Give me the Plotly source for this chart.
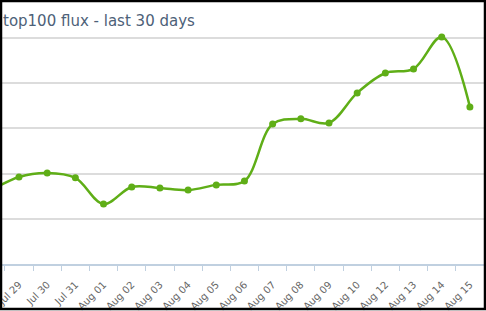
import plotly.graph_objects as go

categories = ["Jul 28", "Jul 29", "Jul 30", "Jul 31", "Aug 01", "Aug 02", "Aug 03",
              "Aug 04", "Aug 05", "Aug 06", "Aug 07", "Aug 08", "Aug 09", "Aug 10",
              "Aug 12", "Aug 13", "Aug 14", "Aug 15"]
flux = [32.5, 38.5, 40.3, 38.1, 26.5, 34.1, 33.6, 32.7, 35.0, 36.7,
        61.9, 64.2, 62.4, 75.7, 84.5, 86.3, 100.4, 69.5]
y_ticks = [0, 20, 40, 60, 80, 100]

W, H = 486, 311
plot_left, plot_right, plot_top, plot_bottom = 0, 484, 28, 264

fig = go.Figure()
fig.add_trace(go.Scatter(
    x=categories, y=flux, mode="lines+markers",
    line=dict(color="#5fae17", width=2.5, shape="spline", smoothing=1.0),
    marker=dict(color="#5fae17", size=7),
    cliponaxis=False, showlegend=False, hoverinfo="skip",
))

ph = plot_bottom - plot_top
pw = plot_right - plot_left
fig.update_layout(
    width=W, height=H,
    margin=dict(l=plot_left, r=W - plot_right, t=plot_top, b=H - plot_bottom, pad=0,
                autoexpand=False),
    paper_bgcolor="white", plot_bgcolor="white",
    title=dict(text="top100 flux - last 30 days", x=3 / W, xref="container", xanchor="left",
               y=1 - 21 / H, yref="container", yanchor="middle",
               font=dict(family="DejaVu Sans", size=15, color="#4d6178")),
    xaxis=dict(type="category", range=[0.326, 17.5], tickson="boundaries",
               automargin=False, showgrid=False,
               showline=True, linecolor="#c0d0e0", linewidth=2,
               ticks="outside", ticklen=5, tickcolor="#c0d0e0", tickwidth=1,
               ticklabelstandoff=9,
               tickangle=-45, tickfont=dict(family="DejaVu Sans", size=10, color="#666666"),
               zeroline=False, fixedrange=True),
    yaxis=dict(range=[0, 104.4], tickvals=y_ticks, showticklabels=False,
               automargin=False,
               showgrid=True, gridcolor="#dcdcdc", gridwidth=2,
               zeroline=False, showline=False, fixedrange=True),
    shapes=[dict(type="rect", xref="paper", yref="paper",
                 x0=(1 - plot_left) / pw, x1=(485 - plot_left) / pw,
                 y0=(plot_bottom - 309) / ph, y1=(plot_bottom - 1) / ph,
                 line=dict(color="black", width=2.5), fillcolor="rgba(0,0,0,0)")],
)

fig.write_html("out.html")
